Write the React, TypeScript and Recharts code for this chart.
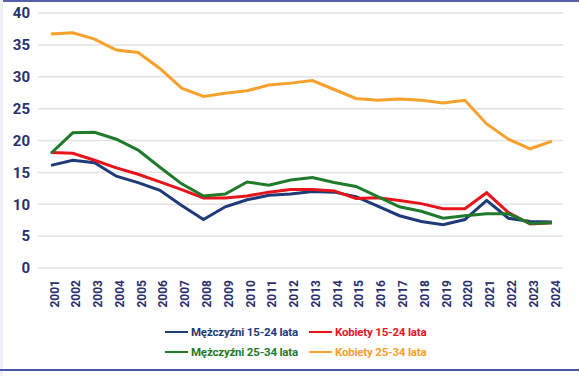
import { LineChart, Line, XAxis, YAxis, CartesianGrid } from "recharts";

const years = [
  "2001", "2002", "2003", "2004", "2005", "2006", "2007", "2008", "2009", "2010", "2011", "2012",
  "2013", "2014", "2015", "2016", "2017", "2018", "2019", "2020", "2021", "2022", "2023", "2024",
];

const men1524 = [16.1, 16.9, 16.5, 14.4, 13.4, 12.2, 9.8, 7.6, 9.6, 10.7, 11.4, 11.6, 12.0, 11.9, 11.2, 9.7, 8.2, 7.3, 6.8, 7.6, 10.6, 7.8, 7.3, 7.2];
const women1524 = [18.1, 18.0, 16.9, 15.7, 14.7, 13.5, 12.3, 11.0, 11.0, 11.3, 11.9, 12.3, 12.3, 12.1, 10.9, 11.0, 10.6, 10.1, 9.3, 9.3, 11.8, 8.7, 6.9, 7.1];
const men2534 = [18.0, 21.2, 21.3, 20.2, 18.5, 15.8, 13.2, 11.3, 11.6, 13.5, 13.0, 13.8, 14.2, 13.4, 12.8, 11.2, 9.6, 8.9, 7.8, 8.2, 8.5, 8.5, 7.0, 7.1];
const women2534 = [36.7, 36.9, 35.9, 34.2, 33.8, 31.3, 28.2, 26.9, 27.4, 27.8, 28.7, 29.0, 29.4, 28.0, 26.6, 26.3, 26.5, 26.3, 25.9, 26.3, 22.6, 20.2, 18.7, 19.9];

const yTicks = [0, 5, 10, 15, 20, 25, 30, 35, 40];

const series = [
  { key: "m1524", name: "Mężczyźni 15-24 lata", color: "#1f3a78", values: men1524 },
  { key: "k1524", name: "Kobiety 15-24 lata", color: "#e8141c", values: women1524 },
  { key: "m2534", name: "Mężczyźni 25-34 lata", color: "#1f7a2c", values: men2534 },
  { key: "k2534", name: "Kobiety 25-34 lata", color: "#f7a12c", values: women2534 },
];

const data = years.map((y, i) => {
  const row: Record<string, string | number> = { year: y };
  series.forEach((s) => {
    row[s.key] = s.values[i];
  });
  return row;
});

const FONT = "Roboto, 'Noto Sans', sans-serif";
const NAVY = "#2b2f6e";

function LegendItem({ name, color, left, top }: { name: string; color: string; left: number; top: number }) {
  return (
    <div style={{ position: "absolute", left, top, display: "flex", alignItems: "center", height: 16 }}>
      <div style={{ width: 23, height: 2, background: color, marginRight: 3 }} />
      <span style={{ fontFamily: FONT, fontSize: 11.5, fontWeight: 700, letterSpacing: -0.2, color, whiteSpace: "nowrap" }}>
        {name}
      </span>
    </div>
  );
}

export default function App() {
  return (
    <div
      style={{
        position: "fixed",
        left: 0,
        top: 0,
        width: 579,
        height: 376,
        background: "#ffffff",
        overflow: "hidden",
      }}
    >
      <div style={{ position: "absolute", left: 0, top: 0, width: 579, height: 2, background: "#5560a8" }} />
      <div style={{ position: "absolute", left: 0, top: 0, width: 3, height: 376, background: "#eef0f5" }} />
      <div style={{ position: "absolute", left: 0, top: 369, width: 579, height: 2, background: "#4b56a6" }} />
      <div style={{ position: "absolute", left: 0, top: 0 }}>
        <LineChart width={579} height={376} data={data} margin={{ top: 13, right: 16, bottom: 68, left: 0 }}>
          <CartesianGrid horizontal vertical={false} stroke="#e2e2e2" strokeWidth={1.5} />
          <XAxis
            dataKey="year"
            interval={0}
            padding={{ left: 13, right: 11 }}
            axisLine={false}
            tickLine={false}
            height={40}
            angle={-90}
            textAnchor="end"
            dy={-4}
            dx={-1}
            tick={{ fontSize: 12, fontWeight: 700, fill: NAVY, fontFamily: FONT }}
            tickMargin={10}
          />
          <YAxis
            domain={[0, 40]}
            ticks={yTicks}
            width={38}
            axisLine={false}
            tickLine={false}
            tickMargin={2}
            tick={{ fontSize: 15, fontWeight: 700, fill: NAVY, fontFamily: FONT }}
          />
          {series.map((s) => (
            <Line
              key={s.key}
              type="linear"
              dataKey={s.key}
              name={s.name}
              stroke={s.color}
              strokeWidth={3}
              dot={false}
              isAnimationActive={false}
            />
          ))}
        </LineChart>
      </div>
      <LegendItem name={series[0].name} color={series[0].color} left={165} top={324} />
      <LegendItem name={series[1].name} color={series[1].color} left={309} top={324} />
      <LegendItem name={series[2].name} color={series[2].color} left={165} top={344} />
      <LegendItem name={series[3].name} color={series[3].color} left={309} top={344} />
    </div>
  );
}
